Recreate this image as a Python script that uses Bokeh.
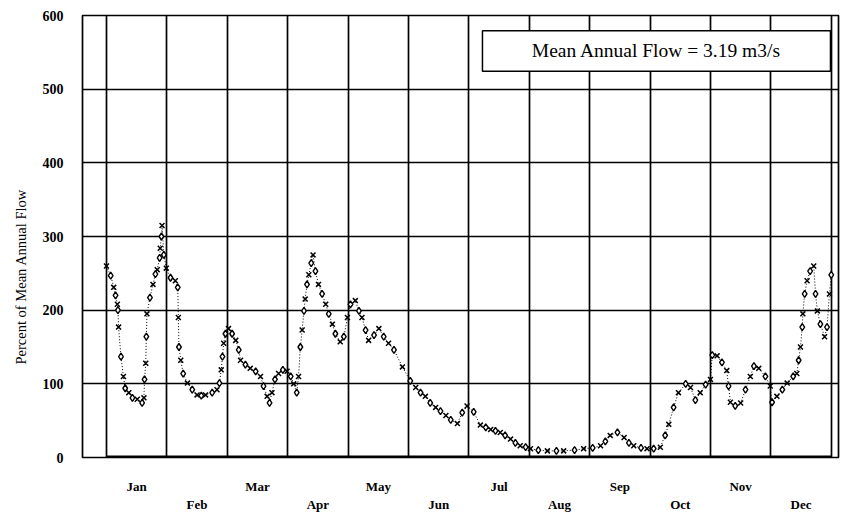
from bokeh.plotting import figure
from bokeh.models import Range1d, FixedTicker, Label, BoxAnnotation, LinearAxis, Title
from bokeh.embed import file_html
from bokeh.resources import INLINE

# ---- data (x = position in months, 0 = 1 Jan, 12 = 31 Dec) ----
month_names = ["Jan", "Feb", "Mar", "Apr", "May", "Jun",
               "Jul", "Aug", "Sep", "Oct", "Nov", "Dec"]
y_ticks = [0, 100, 200, 300, 400, 500, 600]
mean_flow_text = "Mean Annual Flow = 3.19 m3/s"
y_title = "Percent of Mean Annual Flow"

month_pos = [
    0.00, 0.07, 0.12, 0.15, 0.18, 0.19, 0.20, 0.24, 0.28, 0.31, 0.37, 0.43, 0.51, 0.59, 0.62, 0.63,
    0.65, 0.66, 0.67, 0.72, 0.77, 0.81, 0.84, 0.88, 0.89, 0.91, 0.92, 0.95, 0.99,
    1.06, 1.14, 1.18, 1.19, 1.20, 1.23, 1.27, 1.34, 1.42, 1.50, 1.57, 1.64, 1.75, 1.83, 1.87, 1.90,
    1.92, 1.94, 1.97,
    2.02, 2.08, 2.14, 2.19, 2.22, 2.30, 2.38, 2.47, 2.55, 2.60, 2.66, 2.70, 2.74, 2.79, 2.85, 2.92, 2.99,
    3.05, 3.10, 3.15, 3.18, 3.21, 3.24, 3.27, 3.29, 3.32, 3.35, 3.39, 3.42, 3.46, 3.51, 3.57, 3.63,
    3.68, 3.74, 3.79, 3.87, 3.93, 3.99,
    4.04, 4.12, 4.18, 4.23, 4.29, 4.34, 4.43, 4.51, 4.59, 4.67, 4.76, 4.90,
    5.03, 5.12, 5.20, 5.28, 5.36, 5.45, 5.53, 5.62, 5.70, 5.81, 5.89, 5.97,
    6.08, 6.19, 6.28, 6.36, 6.44, 6.52, 6.60, 6.69, 6.77, 6.85, 6.94,
    7.02, 7.15, 7.30, 7.45, 7.57, 7.75, 7.90,
    8.05, 8.18, 8.26, 8.34, 8.46, 8.57, 8.65, 8.73, 8.85, 8.95,
    9.06, 9.17, 9.25, 9.31, 9.39, 9.47, 9.59, 9.67, 9.75, 9.83, 9.92,
    10.00, 10.03, 10.11, 10.19, 10.27, 10.30, 10.33, 10.41, 10.50, 10.58, 10.66, 10.72, 10.80, 10.91, 10.99,
    11.02, 11.10, 11.19, 11.27, 11.37, 11.43, 11.46, 11.49, 11.52, 11.53, 11.56, 11.60, 11.65, 11.71,
    11.74, 11.77, 11.82, 11.89, 11.93, 11.97, 12.00,
]
pct_flow = [
    260, 247, 231, 220, 208, 200, 177, 137, 110, 94, 88, 81, 79, 74, 81, 106,
    128, 164, 195, 217, 235, 249, 255, 271, 284, 300, 315, 275, 257,
    244, 240, 231, 190, 150, 132, 114, 101, 92, 85, 84, 85, 88, 92, 101, 119,
    137, 155, 168,
    175, 168, 159, 146, 132, 126, 121, 117, 110, 97, 83, 74, 88, 106, 114, 119, 117,
    110, 100, 88, 110, 150, 173, 199, 215, 235, 248, 264, 275, 253, 235, 222, 208,
    195, 181, 168, 157, 164, 190,
    208, 213, 199, 190, 173, 159, 166, 175, 164, 155, 146, 123,
    104, 95, 88, 83, 74, 68, 63, 57, 51, 46, 61, 70,
    62, 44, 41, 38, 36, 34, 30, 25, 20, 16, 14,
    12, 10, 9, 9, 9, 10, 12,
    13, 16, 22, 30, 34, 27, 20, 16, 13, 12,
    12, 14, 30, 45, 68, 88, 100, 95, 78, 88, 99,
    106, 139, 138, 129, 118, 97, 75, 70, 74, 92, 110, 124, 121, 110, 97,
    75, 83, 92, 101, 110, 114, 132, 150, 177, 195, 222, 240, 253, 260,
    222, 199, 181, 164, 177, 222, 248,
]
assert len(month_pos) == len(pct_flow)

baseline_months = [0, 12]
baseline_pct = [0, 0]

SERIF = "Liberation Serif"

p = figure(width=849, height=514, output_backend="svg", toolbar_location=None,
           x_range=Range1d(-0.397, 12.12), y_range=Range1d(0, 600),
           min_border_left=82, min_border_right=11, min_border_top=15, min_border_bottom=52,
           background_fill_color="white", border_fill_color="white")

# vertical grid at month boundaries
p.xgrid.ticker = FixedTicker(ticks=list(range(13)))

# month labels in two staggered rows, centred in each month
upper_ticks = [k + 0.5 for k in range(0, 12, 2)]
lower_ticks = [k + 0.5 for k in range(1, 12, 2)]

def style_month_axis(ax, ticks, names, standoff):
    ax.ticker = FixedTicker(ticks=ticks)
    ax.major_label_overrides = {t: n for t, n in zip(ticks, names)}
    ax.axis_line_color = None
    ax.major_tick_line_color = None
    ax.minor_tick_line_color = None
    ax.major_tick_out = 0
    ax.major_tick_in = 0
    ax.major_label_standoff = standoff
    ax.major_label_text_font = SERIF
    ax.major_label_text_font_style = "bold"
    ax.major_label_text_font_size = "13px"
    ax.major_label_text_color = "black"

style_month_axis(p.xaxis[0], upper_ticks, month_names[0::2], 21)
lower_axis = LinearAxis()
style_month_axis(lower_axis, lower_ticks, month_names[1::2], 0)
p.add_layout(lower_axis, "below")

p.yaxis.ticker = FixedTicker(ticks=y_ticks)
p.yaxis.axis_line_color = None
p.yaxis.major_tick_line_color = None
p.yaxis.minor_tick_line_color = None
p.yaxis.major_tick_out = 0
p.yaxis.major_tick_in = 0
p.yaxis.major_label_standoff = 19
p.yaxis.major_label_text_font = SERIF
p.yaxis.major_label_text_font_style = "bold"
p.yaxis.major_label_text_font_size = "14px"
p.yaxis.major_label_text_color = "black"

for g in (p.xgrid, p.ygrid):
    g.grid_line_color = "black"
    g.grid_line_width = 1.7
    g.grid_line_alpha = 1.0

p.outline_line_color = "black"
p.outline_line_width = 1.7
p.outline_line_alpha = 1.0

# y-axis title, shifted toward the bottom like the original
p.add_layout(Title(text=y_title, align="left", offset=93, standoff=21,
                   text_font=SERIF, text_font_style="normal", text_font_size="14.5px",
                   text_color="black"), "left")

# baseline series at zero
p.line(baseline_months, baseline_pct, line_color="black", line_width=4)

# daily flow series: dotted line with alternating markers
p.line(month_pos, pct_flow, line_color="black", line_width=1, line_dash="1 2")
p.scatter(month_pos[0::2], pct_flow[0::2], marker="x", size=7,
          line_color="black", line_width=1.5)
p.scatter(month_pos[1::2], pct_flow[1::2], marker="diamond", size=7,
          line_color="black", line_width=1.4, fill_color="white")

# legend-like box
box = BoxAnnotation(left=6.225, right=11.987, bottom=524.3, top=579.3,
                    fill_color="white", fill_alpha=1.0, line_color="black",
                    line_width=1.5, line_alpha=1.0)
p.add_layout(box)
p.add_layout(Label(x=9.106, y=552, text=mean_flow_text, text_align="center",
                   text_baseline="middle", text_font=SERIF, text_font_size="19.5px",
                   text_color="black"))

open("out.html", "w").write(file_html(p, INLINE, title="Percent of Mean Annual Flow"))
